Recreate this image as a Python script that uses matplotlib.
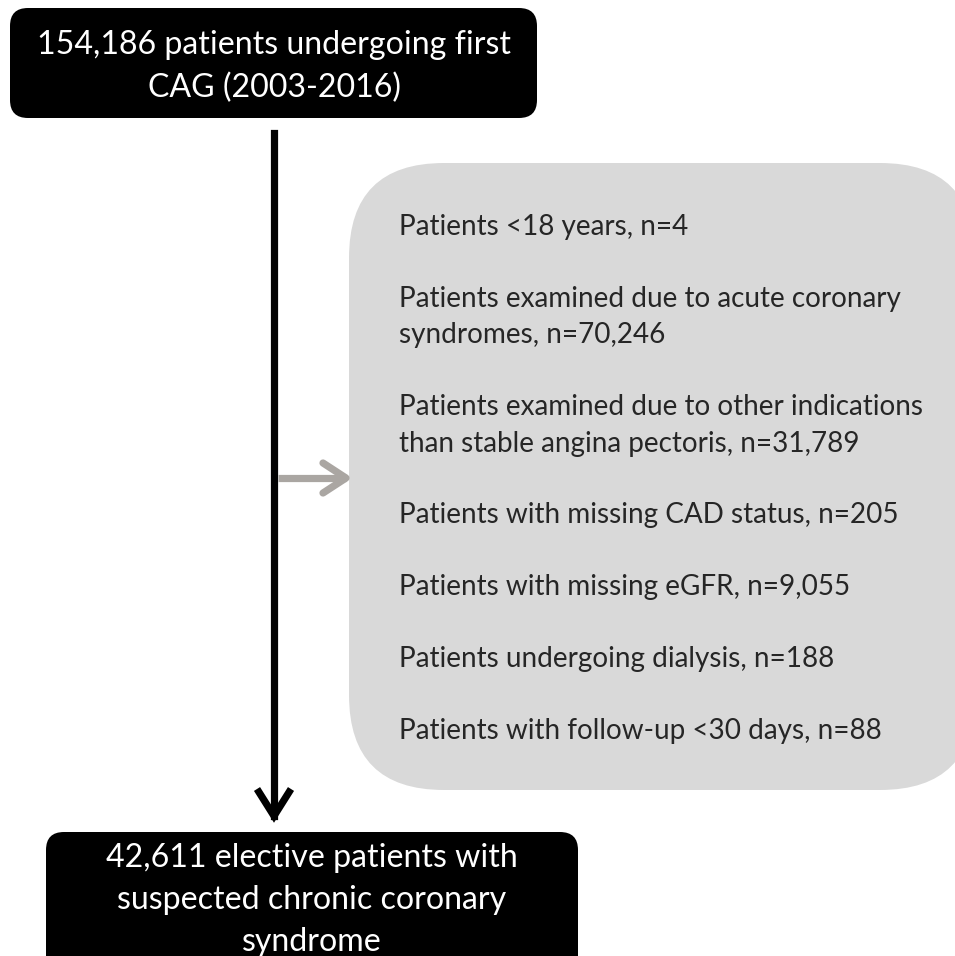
import matplotlib.pyplot as plt
from matplotlib.patches import FancyBboxPatch

# flowchart text
start_text = ["154,186 patients undergoing first", "CAG (2003-2016)"]
end_text = ["42,611 elective patients with", "suspected chronic coronary", "syndrome"]
exclusions = [
    ["Patients <18 years, n=4"],
    ["Patients examined due to acute coronary", "syndromes, n=70,246"],
    ["Patients examined due to other indications", "than stable angina pectoris, n=31,789"],
    ["Patients with missing CAD status, n=205"],
    ["Patients with missing eGFR, n=9,055"],
    ["Patients undergoing dialysis, n=188"],
    ["Patients with follow-up <30 days, n=88"],
]

plt.rcParams['font.family'] = ['Lato', 'DejaVu Sans']

fig = plt.figure(figsize=(9.55, 9.56), dpi=100)
ax = fig.add_axes([0, 0, 1, 1])
ax.set_xlim(0, 955)
ax.set_ylim(956, 0)
ax.axis('off')

def box(x0, y0, x1, y1, r, color):
    ax.add_patch(FancyBboxPatch((x0, y0), x1 - x0, y1 - y0,
                                boxstyle="round,pad=0,rounding_size=%d" % r,
                                fc=color, ec='none', zorder=1))

# top and bottom boxes
box(10, 8, 537, 118, 18, 'black')
for i, s in enumerate(start_text):
    ax.text(274, 45 + i * 43, s, color='white', fontsize=23.1,
            ha='center', va='center', zorder=3)

box(46, 832, 578, 990, 18, 'black')
for i, s in enumerate(end_text):
    ax.text(312, 858 + i * 42, s, color='white', fontsize=23.1,
            ha='center', va='center', zorder=3)

# grey exclusion box
box(349, 163, 975, 790, 95, '#d9d9d9')
y = 227
for item in exclusions:
    for line in item:
        ax.text(399, y, line, color='#262626', fontsize=20.1,
                ha='left', va='center', zorder=3)
        y += 36.5
    y += 35.3

# main vertical arrow
lw = 5.2
ax.plot([274, 274], [133, 816], color='black', lw=lw, zorder=2)
ax.plot([257, 274, 291], [789, 816, 789], color='black', lw=lw,
        solid_joinstyle='miter', solid_capstyle='butt', zorder=2)

# grey side arrow
grey = '#aaa6a2'
ax.plot([278, 346], [478, 478], color=grey, lw=lw, solid_capstyle='butt', zorder=2)
ax.plot([323, 346, 323], [463, 478, 493], color=grey, lw=lw,
        solid_capstyle='round', solid_joinstyle='round', zorder=2)

fig.savefig('out.png', dpi=100)
